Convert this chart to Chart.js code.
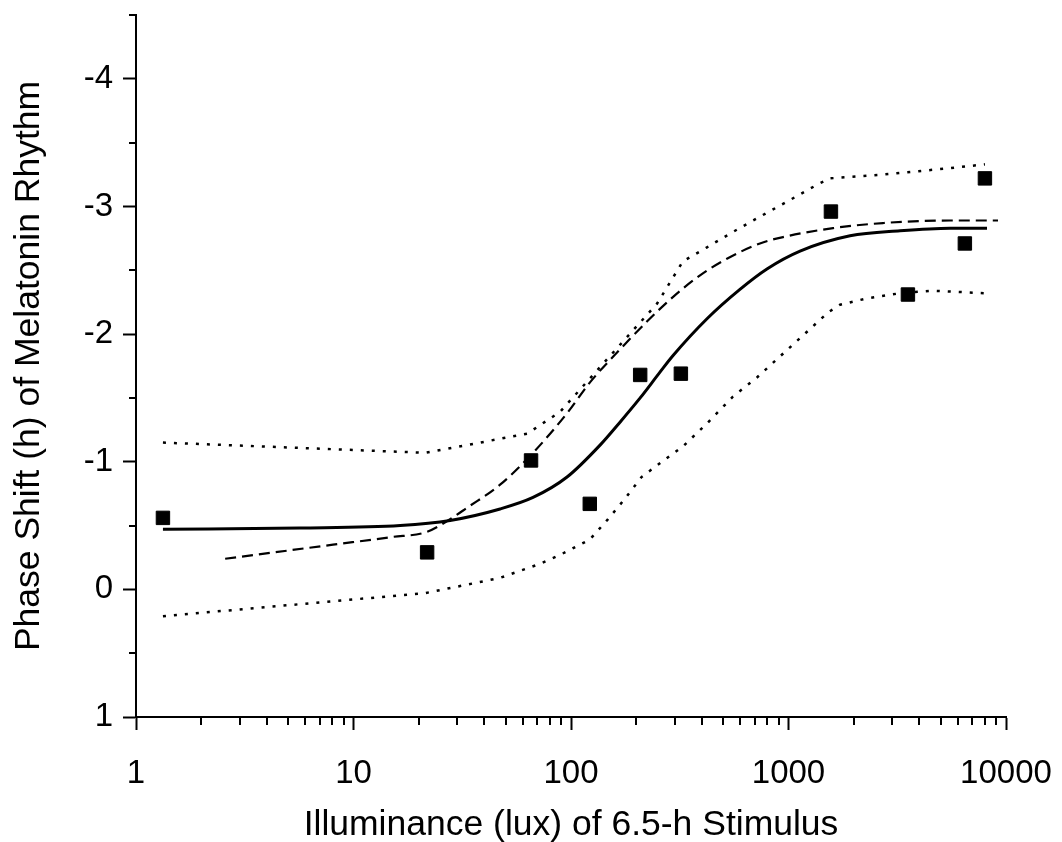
<!DOCTYPE html>
<html>
<head>
<meta charset="utf-8">
<script src="https://cdn.jsdelivr.net/npm/chart.js@4.4.1/dist/chart.umd.min.js"></script>
<style>
  body { margin: 0; background: #fff; }
  #wrap { width: 1062px; height: 842px; }
</style>
</head>
<body>
<div id="wrap"><canvas id="chart" width="1062" height="842"></canvas></div>
<script>
// measured phase shifts
const pointLux = [1.33, 21.8, 65.5, 122, 208, 320, 1567, 3540, 6470, 8000];
const pointShift = [-0.56, -0.29, -1.01, -0.67, -1.68, -1.69, -2.96, -2.31, -2.71, -3.22];

// fitted curve (solid)
const fitLux = [1.33, 5.67, 16.4, 27.8, 47.2, 66.9, 95.9, 136, 168, 208, 256, 294, 422, 598, 796, 1130, 1919, 3257, 5530, 8180];
const fitShift = [-0.47, -0.48, -0.50, -0.54, -0.63, -0.72, -0.88, -1.13, -1.31, -1.50, -1.70, -1.83, -2.12, -2.35, -2.51, -2.65, -2.77, -2.81, -2.83, -2.83];

// dashed curve
const dashLux = [2.57, 8.05, 15, 21.7, 27.8, 33.3, 47.2, 66.9, 95.9, 122, 168, 224, 294, 392, 521, 739, 944, 1603, 2718, 5530, 9190];
const dashShift = [-0.24, -0.35, -0.41, -0.45, -0.55, -0.64, -0.82, -1.07, -1.38, -1.62, -1.88, -2.10, -2.29, -2.46, -2.59, -2.71, -2.76, -2.83, -2.87, -2.89, -2.89];

// confidence band, upper dotted
const upperLux = [1.33, 21.3, 33.3, 47.2, 62.9, 89, 146, 249, 327, 422, 555, 739, 944, 1352, 1552, 2718, 5530, 8000];
const upperShift = [-1.15, -1.07, -1.13, -1.18, -1.22, -1.39, -1.80, -2.24, -2.57, -2.68, -2.80, -2.92, -3.02, -3.17, -3.22, -3.25, -3.30, -3.33];

// confidence band, lower dotted
const lowerLux = [1.33, 21.3, 47.2, 72, 89, 122, 148, 177, 211, 262, 327, 422, 555, 716, 1256, 1520, 1726, 2296, 3257, 4618, 8000];
const lowerShift = [0.21, 0.03, -0.09, -0.20, -0.27, -0.39, -0.55, -0.71, -0.88, -1.00, -1.12, -1.30, -1.51, -1.66, -2.04, -2.17, -2.23, -2.28, -2.32, -2.34, -2.32];

const xTicks = [1, 10, 100, 1000, 10000];
const xMinor = [2, 3, 4, 5, 6, 7, 8, 9, 20, 30, 40, 50, 60, 70, 80, 90, 200, 300, 400, 500, 600, 700, 800, 900, 2000, 3000, 4000, 5000, 6000, 7000, 8000, 9000];
const yTicks = [-4, -3, -2, -1, 0, 1];
const yMinor = [-4.5, -3.5, -2.5, -1.5, -0.5, 0.5];

const FONT = "'Liberation Sans', Arial, Helvetica, sans-serif";

function toXY(xs, ys) {
  return xs.map((x, i) => ({ x: x, y: ys[i] }));
}

const minorTicks = {
  id: 'minorTicks',
  afterDraw(chart) {
    const { ctx, scales: { x, y } } = chart;
    ctx.save();
    ctx.strokeStyle = '#000';
    ctx.lineWidth = 2;
    ctx.beginPath();
    xMinor.forEach((v) => {
      const px = Math.round(x.getPixelForValue(v));
      ctx.moveTo(px, x.top);
      ctx.lineTo(px, x.top + 8);
    });
    yMinor.forEach((v) => {
      const py = Math.round(y.getPixelForValue(v));
      ctx.moveTo(y.right, py);
      ctx.lineTo(y.right - 7, py);
    });
    ctx.stroke();
    ctx.restore();
  }
};

const lineBase = {
  showLine: true,
  pointRadius: 0,
  borderColor: '#000',
  fill: false,
  tension: 0
};

new Chart(document.getElementById('chart'), {
  type: 'scatter',
  data: {
    datasets: [
      {
        label: 'data',
        data: toXY(pointLux, pointShift),
        pointStyle: 'rect',
        pointRadius: 9.5,
        backgroundColor: '#000',
        borderColor: '#000',
        borderWidth: 1,
        order: 0
      },
      Object.assign({}, lineBase, {
        label: 'fit',
        data: toXY(fitLux, fitShift),
        borderWidth: 3,
        cubicInterpolationMode: 'monotone'
      }),
      Object.assign({}, lineBase, {
        label: 'dashed',
        data: toXY(dashLux, dashShift),
        borderWidth: 2.2,
        borderDash: [11, 6],
        cubicInterpolationMode: 'monotone'
      }),
      Object.assign({}, lineBase, {
        label: 'upper',
        data: toXY(upperLux, upperShift),
        borderWidth: 2.5,
        borderDash: [3, 8]
      }),
      Object.assign({}, lineBase, {
        label: 'lower',
        data: toXY(lowerLux, lowerShift),
        borderWidth: 2.5,
        borderDash: [3, 8]
      })
    ]
  },
  options: {
    responsive: false,
    animation: false,
    layout: { padding: { top: 15, right: 56, left: 0, bottom: 0 } },
    plugins: {
      legend: { display: false },
      tooltip: { enabled: false }
    },
    scales: {
      x: {
        type: 'logarithmic',
        min: 1,
        max: 10000,
        afterBuildTicks: (axis) => { axis.ticks = xTicks.map((v) => ({ value: v })); },
        afterFit: (axis) => {
          axis.height = 125;
          axis.paddingLeft = 0;
          axis.paddingRight = 0;
        },
        border: { display: true, color: '#000', width: 2 },
        grid: { drawOnChartArea: false, drawTicks: true, tickLength: 13, tickWidth: 2, tickColor: '#000' },
        ticks: {
          color: '#000',
          padding: 24,
          maxRotation: 0,
          autoSkip: false,
          font: { family: FONT, size: 33 },
          callback: (v) => String(v)
        },
        title: {
          display: true,
          text: 'Illuminance (lux) of 6.5-h Stimulus',
          color: '#000',
          font: { family: FONT, size: 35.5 },
          padding: { top: 10, bottom: -5 }
        }
      },
      y: {
        type: 'linear',
        reverse: true,
        min: -4.5,
        max: 1,
        afterBuildTicks: (axis) => { axis.ticks = yTicks.map((v) => ({ value: v })); },
        afterFit: (axis) => {
          axis.width = 136;
          axis.paddingTop = 0;
          axis.paddingBottom = 0;
        },
        border: { display: true, color: '#000', width: 2 },
        grid: { drawOnChartArea: false, drawTicks: true, tickLength: 13, tickWidth: 2, tickColor: '#000' },
        ticks: {
          color: '#000',
          padding: 10,
          font: { family: FONT, size: 33 },
          callback: (v) => String(v)
        },
        title: {
          display: true,
          text: 'Phase Shift (h) of Melatonin Rhythm',
          color: '#000',
          font: { family: FONT, size: 35.5 },
          padding: { top: 8, bottom: 0 }
        }
      }
    }
  },
  plugins: [minorTicks]
});
</script>
</body>
</html>
